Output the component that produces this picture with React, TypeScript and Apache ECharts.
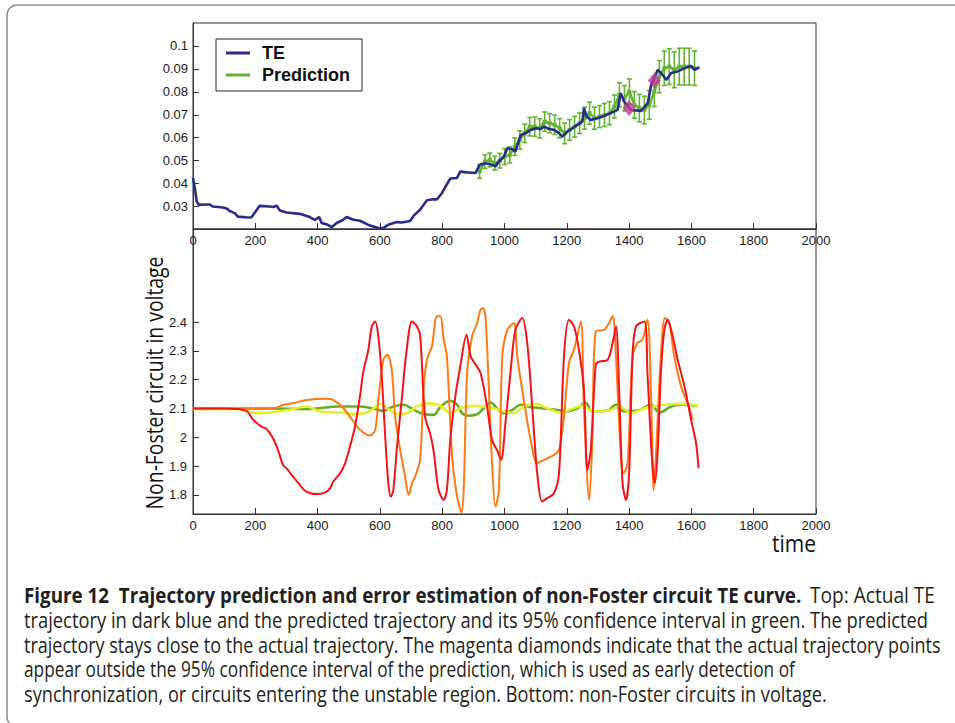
import React, { useEffect, useRef } from "react";
import * as echarts from "echarts";

// ---------- data ----------
const timeTicks = [0, 200, 400, 600, 800, 1000, 1200, 1400, 1600, 1800, 2000];
const teTicks = [0.03, 0.04, 0.05, 0.06, 0.07, 0.08, 0.09, 0.1];
const voltageTicks = [1.8, 1.9, 2.0, 2.1, 2.2, 2.3, 2.4];

const teTime = [0, 6, 12, 19, 40, 53, 64, 96, 110, 117, 135, 144, 170, 187, 201, 214, 246, 258, 268, 279, 300, 343, 375, 391, 405, 413, 430, 445, 461, 480, 493, 515, 536, 568, 595, 611, 627, 654, 670, 697, 708, 729, 751, 772, 783, 799, 810, 826, 847, 858, 880, 907, 920, 939, 960, 971, 982, 998, 1009, 1025, 1035, 1052, 1067, 1084, 1100, 1116, 1127, 1143, 1159, 1175, 1186, 1202, 1218, 1234, 1250, 1255, 1264, 1277, 1298, 1320, 1341, 1363, 1373, 1384, 1406, 1438, 1460, 1470, 1492, 1508, 1519, 1535, 1556, 1578, 1599, 1610, 1626];
const teValue = [0.0424, 0.038, 0.0322, 0.0307, 0.0309, 0.0309, 0.03, 0.0296, 0.029, 0.0281, 0.027, 0.0256, 0.0253, 0.0252, 0.0278, 0.0303, 0.03, 0.0298, 0.0304, 0.0283, 0.0274, 0.0268, 0.0254, 0.0242, 0.0254, 0.0228, 0.0222, 0.021, 0.0228, 0.024, 0.0254, 0.0242, 0.0238, 0.0217, 0.0206, 0.0206, 0.0221, 0.0232, 0.023, 0.0237, 0.0259, 0.0286, 0.0327, 0.0332, 0.0331, 0.0358, 0.0385, 0.0422, 0.0424, 0.0452, 0.0449, 0.0446, 0.0482, 0.0489, 0.0482, 0.0475, 0.0496, 0.0518, 0.0554, 0.055, 0.0539, 0.0612, 0.0619, 0.0634, 0.0641, 0.0638, 0.0648, 0.0638, 0.0634, 0.062, 0.0605, 0.0627, 0.0641, 0.0656, 0.067, 0.0729, 0.0692, 0.0677, 0.0685, 0.0695, 0.0707, 0.0721, 0.0794, 0.0758, 0.0721, 0.0717, 0.0751, 0.0826, 0.0896, 0.0874, 0.0852, 0.0882, 0.0889, 0.0903, 0.0913, 0.0896, 0.0908];

const predTime = [920, 937, 953, 969, 985, 1001, 1017, 1033, 1049, 1065, 1081, 1097, 1113, 1129, 1145, 1161, 1177, 1193, 1209, 1225, 1241, 1257, 1273, 1289, 1305, 1321, 1337, 1353, 1369, 1385, 1401, 1417, 1433, 1449, 1465, 1481, 1497, 1513, 1529, 1545, 1561, 1577, 1593, 1610];
const predValue = [0.0453, 0.0496, 0.0503, 0.0489, 0.05, 0.0518, 0.0525, 0.0561, 0.059, 0.0619, 0.0648, 0.0648, 0.0641, 0.067, 0.0663, 0.0656, 0.0641, 0.0619, 0.0634, 0.0648, 0.0663, 0.0685, 0.0707, 0.0685, 0.0692, 0.0699, 0.0707, 0.0736, 0.0787, 0.0772, 0.0801, 0.0743, 0.0729, 0.0721, 0.0743, 0.0801, 0.0866, 0.0903, 0.091, 0.0896, 0.091, 0.091, 0.091, 0.0903];
const predErr = [0.003, 0.003, 0.003, 0.003, 0.0032, 0.0035, 0.0035, 0.0038, 0.004, 0.004, 0.004, 0.0042, 0.0042, 0.0042, 0.0042, 0.0042, 0.0042, 0.0045, 0.0045, 0.0045, 0.0045, 0.0048, 0.0048, 0.0048, 0.0048, 0.005, 0.005, 0.005, 0.0052, 0.0055, 0.0055, 0.0058, 0.006, 0.006, 0.0062, 0.0065, 0.007, 0.0075, 0.0078, 0.0078, 0.008, 0.008, 0.008, 0.0075];

const outlierTime = [1400, 1481];
const outlierValue = [0.0729, 0.0849];

const redTime = [0, 100, 171, 193, 220, 236, 257, 273, 289, 300, 321, 343, 364, 397, 423, 440, 450, 472, 488, 504, 520, 536, 547, 563, 574, 585, 595, 606, 617, 627, 635, 643, 654, 670, 686, 703, 719, 729, 745, 761, 772, 788, 805, 815, 826, 842, 858, 878, 891, 901, 923, 944, 960, 976, 989, 1003, 1019, 1035, 1057, 1073, 1089, 1105, 1121, 1137, 1159, 1175, 1191, 1207, 1223, 1239, 1255, 1266, 1277, 1293, 1304, 1331, 1347, 1358, 1368, 1379, 1390, 1400, 1411, 1422, 1449, 1459, 1473, 1483, 1492, 1502, 1513, 1524, 1540, 1556, 1578, 1599, 1615, 1623];
const redValue = [2.1, 2.1, 2.092, 2.061, 2.037, 2.029, 1.997, 1.956, 1.904, 1.893, 1.864, 1.835, 1.812, 1.803, 1.808, 1.823, 1.846, 1.875, 1.91, 1.968, 2.037, 2.142, 2.229, 2.304, 2.385, 2.402, 2.35, 2.211, 2.003, 1.841, 1.794, 1.817, 1.956, 2.13, 2.304, 2.402, 2.385, 2.356, 2.072, 2.014, 1.956, 1.82, 1.783, 1.817, 1.991, 2.142, 2.246, 2.356, 2.281, 2.263, 2.223, 2.107, 1.991, 1.956, 1.922, 2.049, 2.223, 2.373, 2.414, 2.327, 2.107, 1.875, 1.777, 1.789, 1.806, 1.875, 2.281, 2.408, 2.385, 2.304, 2.165, 1.887, 1.956, 2.252, 2.263, 2.269, 2.327, 2.385, 2.165, 1.841, 1.783, 1.875, 2.281, 2.385, 2.402, 2.223, 1.933, 1.841, 1.956, 2.223, 2.373, 2.408, 2.35, 2.269, 2.176, 2.061, 1.98, 1.893];

const orangeTime = [0, 150, 257, 289, 321, 364, 429, 450, 483, 515, 536, 568, 585, 595, 611, 624, 638, 649, 665, 681, 692, 703, 713, 729, 740, 751, 767, 783, 794, 805, 815, 832, 848, 862, 869, 880, 896, 912, 923, 931, 939, 950, 960, 971, 982, 993, 1009, 1030, 1041, 1062, 1084, 1105, 1127, 1159, 1175, 1191, 1207, 1223, 1245, 1255, 1272, 1282, 1293, 1320, 1336, 1347, 1352, 1363, 1374, 1382, 1395, 1411, 1427, 1443, 1459, 1470, 1479, 1486, 1502, 1515, 1529, 1545, 1567, 1588, 1604];
const orangeValue = [2.1, 2.1, 2.1, 2.112, 2.118, 2.13, 2.134, 2.13, 2.101, 2.055, 2.026, 2.006, 2.026, 2.13, 2.269, 2.287, 2.234, 2.072, 1.956, 1.864, 1.8, 1.841, 1.864, 1.922, 2.165, 2.269, 2.316, 2.42, 2.42, 2.339, 2.281, 1.933, 1.794, 1.74, 1.817, 2.223, 2.35, 2.397, 2.443, 2.449, 2.42, 2.165, 1.91, 1.76, 1.817, 2.281, 2.373, 2.397, 2.281, 2.13, 1.991, 1.91, 1.922, 1.939, 1.956, 2.072, 2.258, 2.304, 2.402, 2.107, 1.783, 1.991, 2.368, 2.373, 2.397, 2.42, 2.397, 2.165, 1.933, 1.875, 1.91, 2.281, 2.327, 2.339, 2.408, 2.165, 1.817, 1.933, 2.281, 2.414, 2.397, 2.281, 2.176, 2.118, 2.061];

const greenTime = [0, 150, 257, 364, 472, 536, 579, 611, 643, 676, 708, 740, 772, 794, 826, 848, 864, 880, 912, 933, 955, 976, 998, 1025, 1052, 1084, 1127, 1170, 1202, 1234, 1261, 1282, 1331, 1358, 1384, 1427, 1470, 1497, 1535, 1567, 1620];
const greenValue = [2.1, 2.1, 2.1, 2.098, 2.107, 2.107, 2.1, 2.092, 2.107, 2.113, 2.096, 2.081, 2.078, 2.105, 2.127, 2.113, 2.084, 2.075, 2.08, 2.101, 2.121, 2.101, 2.084, 2.095, 2.113, 2.105, 2.1, 2.095, 2.09, 2.101, 2.119, 2.09, 2.093, 2.113, 2.09, 2.093, 2.113, 2.086, 2.107, 2.113, 2.109];

const yellowTime = [0, 150, 204, 257, 321, 364, 407, 472, 525, 568, 601, 627, 654, 686, 719, 751, 788, 805, 826, 858, 901, 933, 966, 998, 1030, 1062, 1100, 1137, 1180, 1223, 1250, 1288, 1341, 1368, 1406, 1449, 1481, 1513, 1567, 1620];
const yellowValue = [2.098, 2.098, 2.084, 2.087, 2.098, 2.107, 2.09, 2.086, 2.081, 2.09, 2.116, 2.098, 2.081, 2.084, 2.107, 2.118, 2.113, 2.101, 2.084, 2.101, 2.109, 2.107, 2.101, 2.09, 2.084, 2.107, 2.116, 2.101, 2.086, 2.101, 2.109, 2.09, 2.095, 2.107, 2.084, 2.101, 2.107, 2.113, 2.116, 2.109];

const captionLines = [
  { text: "Figure 12  Trajectory prediction and error estimation of non-Foster circuit TE curve.", bold: true, x: 24, y: 595, width: 778 },
  { text: "Top: Actual TE", bold: false, x: 810, y: 595, width: 125 },
  { text: "trajectory in dark blue and the predicted trajectory and its 95% confidence interval in green. The predicted", bold: false, x: 24, y: 620, width: 904 },
  { text: "trajectory stays close to the actual trajectory. The magenta diamonds indicate that the actual trajectory points", bold: false, x: 24, y: 645, width: 917 },
  { text: "appear outside the 95% confidence interval of the prediction, which is used as early detection of", bold: false, x: 24, y: 669, width: 771 },
  { text: "synchronization, or circuits entering the unstable region. Bottom: non-Foster circuits in voltage.", bold: false, x: 24, y: 694, width: 803 },
];

const FAMILY = '"Open Sans", "Noto Sans", sans-serif';
const AXIS_FONT = '"Liberation Sans", Arial, sans-serif';

function measure(text: string, font: string): number {
  const c = document.createElement("canvas").getContext("2d");
  if (!c) return 1;
  c.font = font;
  return c.measureText(text).width || 1;
}

const zip = (a: number[], b: number[]) => a.map((t, i) => [t, b[i]]);

export default function App() {
  const ref = useRef<HTMLDivElement>(null);

  useEffect(() => {
    if (!ref.current) return;
    const chart = echarts.init(ref.current, undefined, { renderer: "svg" });

    const capSize = 21;
    const captionEls = captionLines.map((l) => {
      const w = measure(l.text, `${l.bold ? "bold " : ""}${capSize}px ${FAMILY}`);
      return {
        type: "text",
        x: l.x,
        y: l.y,
        scaleX: l.width / w,
        style: {
          text: l.text,
          fontSize: capSize,
          fontWeight: l.bold ? "bold" : "normal",
          fontFamily: FAMILY,
          fill: "#231f20",
          align: "left",
          verticalAlign: "middle",
        },
      };
    });

    const yName = "Non-Foster circuit in voltage";
    const yNameSize = 23;
    const yNameW = measure(yName, `${yNameSize}px ${FAMILY}`);
    const timeW = measure("time", `${yNameSize}px ${FAMILY}`);

    const axisLineStyle = { color: "#333", width: 1 };
    const labelStyle = { fontFamily: AXIS_FONT, fontSize: 13, color: "#1a1a1a" };
    const plain = (d: number) => (v: number) => String(parseFloat(v.toFixed(d)));

    const errorBars = predTime.map((t, i) => [t, predValue[i], predErr[i]]);

    const option: any = {
      animation: false,
      backgroundColor: "#fff",
      grid: [
        { left: 193, right: 139, top: 23, height: 206, show: true, borderColor: "#333", borderWidth: 1 },
        { left: 193, right: 139, top: 229, height: 285, show: true, borderColor: "#333", borderWidth: 1 },
      ],
      legend: {
        data: ["TE", "Prediction"],
        orient: "vertical",
        left: 216,
        top: 39,
        padding: [5, 12, 7, 10],
        itemGap: 4,
        itemWidth: 24,
        itemHeight: 3,
        icon: "rect",
        borderColor: "#222",
        borderWidth: 1,
        borderRadius: 0,
        backgroundColor: "#fff",
        textStyle: { fontFamily: AXIS_FONT, fontWeight: "bold", fontSize: 18, color: "#111", padding: [0, 0, 0, 7] },
      },
      xAxis: [0, 1].map((g) => ({
        type: "value",
        gridIndex: g,
        min: 0,
        max: 2000,
        interval: 200,
        axisLine: { show: true, lineStyle: axisLineStyle },
        axisTick: { show: true, inside: true, length: 6, lineStyle: axisLineStyle },
        axisLabel: { ...labelStyle, margin: 5, formatter: plain(0) },
        splitLine: { show: false },
      })),
      yAxis: [
        {
          type: "value",
          gridIndex: 0,
          min: 0.0202,
          max: 0.11,
          axisLine: { show: true, lineStyle: axisLineStyle },
          axisTick: { show: true, inside: true, length: 6, lineStyle: axisLineStyle, customValues: teTicks },
          axisLabel: { ...labelStyle, margin: 5, customValues: teTicks, formatter: plain(3) },
          splitLine: { show: false },
        },
        {
          type: "value",
          gridIndex: 1,
          min: 1.734,
          max: 2.723,
          axisLine: { show: true, lineStyle: axisLineStyle },
          axisTick: { show: true, inside: true, length: 6, lineStyle: axisLineStyle, customValues: voltageTicks },
          axisLabel: { ...labelStyle, margin: 6, customValues: voltageTicks, formatter: plain(2) },
          splitLine: { show: false },
        },
      ],
      series: [
        {
          type: "custom",
          name: "PredictionCI",
          xAxisIndex: 0,
          yAxisIndex: 0,
          silent: true,
          z: 2,
          encode: { x: 0, y: 1 },
          data: errorBars,
          renderItem: (params: any, api: any) => {
            const x = api.value(0);
            const y = api.value(1);
            const e = api.value(2);
            const top = api.coord([x, y + e]);
            const bot = api.coord([x, y - e]);
            const cw = 2.5;
            const st = { stroke: "#62b332", lineWidth: 1.6 };
            return {
              type: "group",
              children: [
                { type: "line", shape: { x1: top[0], y1: top[1], x2: bot[0], y2: bot[1] }, style: st },
                { type: "line", shape: { x1: top[0] - cw, y1: top[1], x2: top[0] + cw, y2: top[1] }, style: st },
                { type: "line", shape: { x1: bot[0] - cw, y1: bot[1], x2: bot[0] + cw, y2: bot[1] }, style: st },
              ],
            };
          },
        },
        {
          type: "line",
          name: "Prediction",
          xAxisIndex: 0,
          yAxisIndex: 0,
          data: zip(predTime, predValue),
          color: "#62b332",
          lineStyle: { width: 2.6, color: "#62b332" },
          symbol: "rect",
          symbolSize: 4,
          showSymbol: true,
          itemStyle: { color: "#62b332" },
          z: 3,
        },
        {
          type: "line",
          name: "TE",
          xAxisIndex: 0,
          yAxisIndex: 0,
          data: zip(teTime, teValue),
          color: "#2b2a8d",
          lineStyle: { width: 2.6, color: "#2b2a8d" },
          showSymbol: false,
          z: 4,
        },
        {
          type: "scatter",
          name: "Outside CI",
          xAxisIndex: 0,
          yAxisIndex: 0,
          data: zip(outlierTime, outlierValue),
          symbol: "diamond",
          symbolSize: [13, 16],
          itemStyle: { color: "#c2389c" },
          z: 10,
        },
        {
          type: "line",
          name: "Circuit 3",
          xAxisIndex: 1,
          yAxisIndex: 1,
          data: zip(greenTime, greenValue),
          smooth: 0.4,
          showSymbol: false,
          lineStyle: { width: 2.6, color: "#5fae2e" },
          color: "#5fae2e",
        },
        {
          type: "line",
          name: "Circuit 4",
          xAxisIndex: 1,
          yAxisIndex: 1,
          data: zip(yellowTime, yellowValue),
          smooth: 0.4,
          showSymbol: false,
          lineStyle: { width: 2.6, color: "#e6ee2a" },
          color: "#e6ee2a",
        },
        {
          type: "line",
          name: "Circuit 2",
          xAxisIndex: 1,
          yAxisIndex: 1,
          data: zip(orangeTime, orangeValue),
          smooth: 0.3,
          showSymbol: false,
          lineStyle: { width: 2, color: "#ff7a12" },
          color: "#ff7a12",
        },
        {
          type: "line",
          name: "Circuit 1",
          xAxisIndex: 1,
          yAxisIndex: 1,
          data: zip(redTime, redValue),
          smooth: 0.3,
          showSymbol: false,
          lineStyle: { width: 2, color: "#f5121a" },
          color: "#f5121a",
        },
      ],
      graphic: [
        {
          type: "rect",
          shape: { x: 7, y: 5, width: 1000, height: 722, r: 10 },
          style: { fill: "none", stroke: "#8c8c8c", lineWidth: 1.5 },
          silent: true,
        },
        {
          type: "text",
          x: 154,
          y: 383,
          rotation: Math.PI / 2,
          scaleX: 253 / yNameW,
          style: {
            text: yName,
            fontSize: yNameSize,
            fontFamily: FAMILY,
            fill: "#111",
            align: "center",
            verticalAlign: "middle",
          },
        },
        {
          type: "text",
          x: 816,
          y: 543,
          scaleX: 44 / timeW,
          style: {
            text: "time",
            fontSize: yNameSize,
            fontFamily: FAMILY,
            fill: "#111",
            align: "right",
            verticalAlign: "middle",
          },
        },
        ...captionEls,
      ],
    };

    chart.setOption(option);
    return () => chart.dispose();
  }, []);

  return (
    <div
      ref={ref}
      style={{ position: "absolute", left: 0, top: 0, width: 955, height: 723, background: "#fff" }}
    />
  );
}
